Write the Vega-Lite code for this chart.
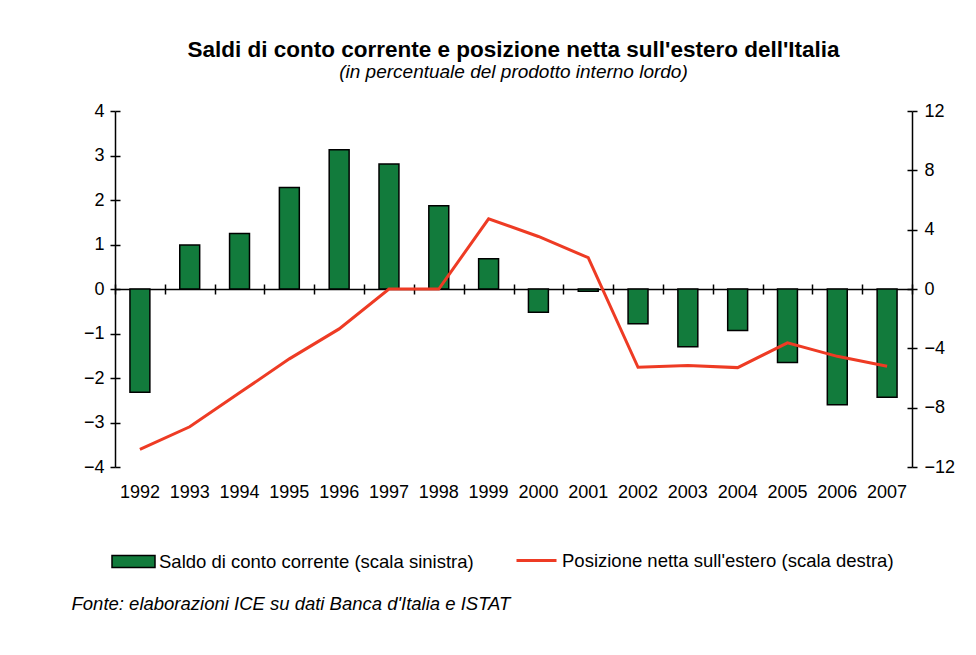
{
  "$schema": "https://vega.github.io/schema/vega-lite/v6.json",
  "width": 797,
  "height": 356,
  "autosize": {"type": "none"},
  "padding": {"left": 115, "top": 111, "right": 64, "bottom": 188},
  "background": "white",
  "config": {
    "font": "Liberation Sans",
    "view": {"stroke": null},
    "axis": {"labelColor": "black", "tickColor": "black", "domainColor": "black", "labelFont": "Liberation Sans", "grid": false},
    "legend": {"labelFont": "Liberation Sans", "labelColor": "black", "labelLimit": 0}
  },
  "title": {
    "text": "Saldi di conto corrente e posizione netta sull'estero dell'Italia",
    "subtitle": "(in percentuale del prodotto interno lordo)",
    "fontSize": 22.5,
    "fontWeight": "bold",
    "font": "Liberation Sans",
    "color": "black",
    "subtitleFont": "Liberation Sans",
    "subtitleFontSize": 19,
    "subtitleFontStyle": "italic",
    "subtitleColor": "black",
    "subtitlePadding": 2,
    "anchor": "middle",
    "offset": 20
  },
  "data": {
    "values": [
      {"year": "1992", "saldo": -2.32, "posizione": -10.81},
      {"year": "1993", "saldo": 0.99, "posizione": -9.29},
      {"year": "1994", "saldo": 1.25, "posizione": -7.0},
      {"year": "1995", "saldo": 2.28, "posizione": -4.71},
      {"year": "1996", "saldo": 3.13, "posizione": -2.69},
      {"year": "1997", "saldo": 2.81, "posizione": 0.0},
      {"year": "1998", "saldo": 1.87, "posizione": 0.0},
      {"year": "1999", "saldo": 0.68, "posizione": 4.73},
      {"year": "2000", "saldo": -0.52, "posizione": 3.54},
      {"year": "2001", "saldo": -0.05, "posizione": 2.11},
      {"year": "2002", "saldo": -0.78, "posizione": -5.28},
      {"year": "2003", "saldo": -1.3, "posizione": -5.16},
      {"year": "2004", "saldo": -0.93, "posizione": -5.3},
      {"year": "2005", "saldo": -1.65, "posizione": -3.63},
      {"year": "2006", "saldo": -2.6, "posizione": -4.54},
      {"year": "2007", "saldo": -2.43, "posizione": -5.21}
    ]
  },
  "layer": [
    {
      "mark": {"type": "bar", "width": {"band": 0.4}, "stroke": "black", "strokeWidth": 1.5},
      "encoding": {
        "x": {
          "field": "year", "type": "ordinal",
          "scale": {"paddingInner": 0, "paddingOuter": 0},
          "axis": {
            "orient": "bottom", "domain": false, "ticks": false,
            "labelFontSize": 18, "labelPadding": 16, "labelAngle": 0,
            "title": "Fonte: elaborazioni ICE su dati Banca d'Italia e ISTAT",
            "titleFont": "Liberation Sans", "titleFontStyle": "italic", "titleFontWeight": "normal",
            "titleFontSize": 18.5, "titleColor": "black",
            "titleAnchor": "start", "titleAlign": "left", "titleBaseline": "alphabetic",
            "titleX": -44, "titleY": 142
          }
        },
        "y": {
          "field": "saldo", "type": "quantitative",
          "scale": {"domain": [-4, 4], "nice": false},
          "axis": {
            "orient": "left", "values": [-4, -3, -2, -1, 0, 1, 2, 3, 4],
            "domainWidth": 1.5, "tickWidth": 1.5, "tickSize": 5,
            "labelFontSize": 18, "labelPadding": 6, "title": null
          }
        },
        "fill": {
          "datum": "Saldo di conto corrente (scala sinistra)",
          "scale": {"range": ["#127B3C"]},
          "legend": {
            "title": null, "orient": "none", "legendX": -4, "legendY": 428,
            "symbolType": "M-1,-0.28H1V0.28H-1Z", "symbolSize": 1849,
            "symbolStrokeColor": "black", "symbolStrokeWidth": 1.5, "symbolFillColor": "#127B3C",
            "labelFontSize": 18.5, "labelOffset": 3, "padding": 0
          }
        }
      }
    },
    {
      "mark": {"type": "line", "strokeWidth": 3},
      "encoding": {
        "x": {
          "field": "year", "type": "ordinal",
          "axis": {
            "orient": "bottom", "offset": -178, "domain": true, "domainWidth": 1.5,
            "ticks": true, "tickBand": "extent", "tickSize": 5, "tickWidth": 1.5,
            "labels": false, "title": null
          }
        },
        "y": {
          "field": "posizione", "type": "quantitative",
          "scale": {"domain": [-12, 12], "nice": false},
          "axis": {
            "orient": "right", "values": [-12, -8, -4, 0, 4, 8, 12],
            "domainWidth": 1.5, "tickWidth": 1.5, "tickSize": 5,
            "labelFontSize": 18, "labelPadding": 7, "title": null
          }
        },
        "stroke": {
          "datum": "Posizione netta sull'estero (scala destra)",
          "scale": {"range": ["#EE3B24"]},
          "legend": {
            "title": null, "orient": "none", "legendX": 400, "legendY": 428,
            "symbolType": "stroke", "symbolSize": 1600, "symbolStrokeWidth": 3,
            "labelFontSize": 18.5, "labelOffset": 4, "padding": 0
          }
        }
      }
    },
    {
      "mark": {"type": "point", "opacity": 0},
      "encoding": {
        "x": {
          "field": "year", "type": "ordinal",
          "axis": {
            "orient": "bottom", "offset": -178, "domain": false,
            "ticks": true, "tickBand": "extent", "tickSize": -5, "tickWidth": 1.5,
            "labels": false, "title": null
          }
        },
        "y": {
          "field": "saldo", "type": "quantitative",
          "scale": {"domain": [-4, 4], "nice": false},
          "axis": {
            "orient": "left", "values": [-4, -3, -2, -1, 0, 1, 2, 3, 4],
            "domain": false, "tickWidth": 1.5, "tickSize": -5, "labels": false, "title": null
          }
        }
      }
    },
    {
      "mark": {"type": "point", "opacity": 0},
      "encoding": {
        "x": {"field": "year", "type": "ordinal", "axis": null},
        "y": {
          "field": "posizione", "type": "quantitative",
          "scale": {"domain": [-12, 12], "nice": false},
          "axis": {
            "orient": "right", "values": [-12, -8, -4, 0, 4, 8, 12],
            "domain": false, "tickWidth": 1.5, "tickSize": -5, "labels": false, "title": null
          }
        }
      }
    }
  ],
  "resolve": {
    "scale": {"y": "independent"},
    "axis": {"x": "independent", "y": "independent"}
  }
}
